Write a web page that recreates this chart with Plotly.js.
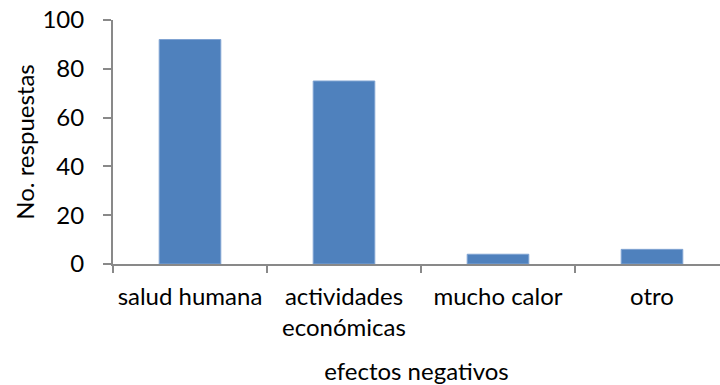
<!DOCTYPE html>
<html>
<head>
<meta charset="utf-8">
<script src="https://cdn.plot.ly/plotly-3.0.1.min.js"></script>
<style>html,body{margin:0;padding:0;background:#fff;}#chart{width:720px;height:385px;}</style>
</head>
<body>
<div id="chart"></div>
<script>
const categories = ["salud humana", "actividades<br>económicas", "mucho calor", "otro"];
const responses = [92, 75, 4, 6];
const yTicks = [0, 20, 40, 60, 80, 100];
const xTitle = "efectos negativos";
const yTitle = "No. respuestas";

const axisColor = "#898989";
const fontFamily = "Lato, 'Open Sans', sans-serif";

const data = [{
  type: "bar",
  x: categories,
  y: responses,
  marker: { color: "#4F81BD", line: { color: "#7FA3D2", width: 1 } },
  hoverinfo: "x+y"
}];

const layout = {
  width: 720,
  height: 385,
  margin: { l: 113, r: 0, t: 20, b: 121 },
  paper_bgcolor: "#ffffff",
  plot_bgcolor: "#ffffff",
  font: { family: fontFamily, size: 24, color: "#000000" },
  showlegend: false,
  bargap: 0.6,
  xaxis: {
    type: "category",
    range: [-0.5, 3.5 - 9 / 154],
    showline: true,
    linecolor: axisColor,
    linewidth: 2,
    ticks: "outside",
    tickson: "boundaries",
    ticklen: 7,
    tickwidth: 2,
    tickcolor: axisColor,
    tickangle: 0,
    ticklabelstandoff: 10,
    showgrid: false,
    zeroline: false,
    automargin: false,
    tickfont: { family: fontFamily, size: 24, color: "#000" },
    title: { text: xTitle, font: { family: fontFamily, size: 24, color: "#000" }, standoff: 24 }
  },
  yaxis: {
    range: [0, 100],
    tickvals: yTicks,
    ticktext: yTicks.map(String),
    showline: true,
    linecolor: axisColor,
    linewidth: 2,
    ticks: "outside",
    ticklen: 8,
    tickwidth: 2,
    tickcolor: axisColor,
    ticklabelstandoff: 14,
    showgrid: false,
    zeroline: false,
    automargin: false,
    tickfont: { family: fontFamily, size: 24, color: "#000" },
    title: { text: yTitle, font: { family: fontFamily, size: 24, color: "#000" }, standoff: 1 }
  }
};

Plotly.newPlot("chart", data, layout, { displayModeBar: false, staticPlot: true });
</script>
</body>
</html>
